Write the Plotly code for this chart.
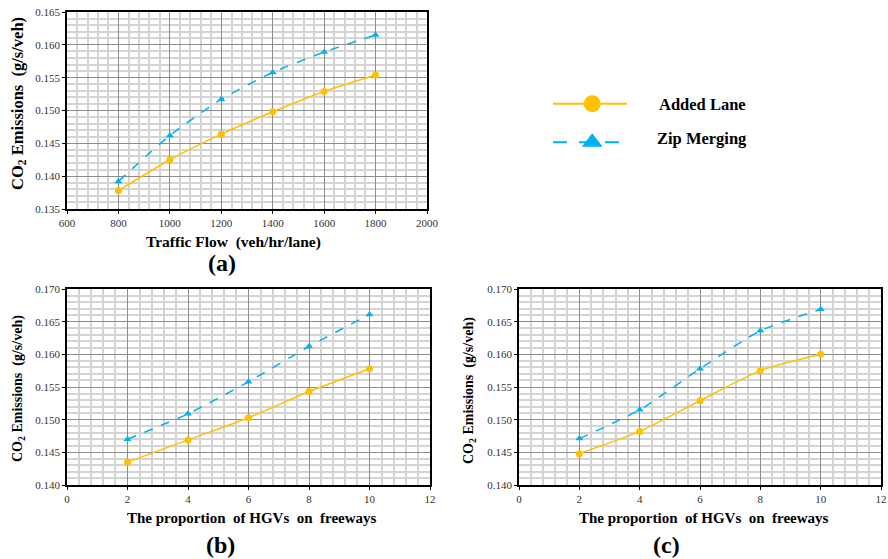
import plotly.graph_objects as go

# ---------------- data ----------------
flow = [800, 1000, 1200, 1400, 1600, 1800]
a_added = [0.1378, 0.1425, 0.1464, 0.1498, 0.1529, 0.1554]
a_zip = [0.1392, 0.1462, 0.1517, 0.1558, 0.1589, 0.1615]

hgv = [2, 4, 6, 8, 10]
b_added = [0.1435, 0.1469, 0.1503, 0.1543, 0.1578]
b_zip = [0.1470, 0.1509, 0.1558, 0.1612, 0.1661]
c_added = [0.1448, 0.1482, 0.1529, 0.1575, 0.1600]
c_zip = [0.1471, 0.1515, 0.1578, 0.1636, 0.1669]

series_names = ["Added Lane", "Zip Merging"]
ORANGE = "#FFC000"
BLUE = "#00B0F0"

W, H = 888, 559
SERIF = "Liberation Serif"

fig = go.Figure()


def add_pair(xs, ya, yz, ax):
    xa = "x" if ax == 1 else f"x{ax}"
    ya_ = "y" if ax == 1 else f"y{ax}"
    fig.add_trace(go.Scatter(x=xs, y=ya, xaxis=xa, yaxis=ya_, mode="lines+markers",
                             line=dict(color=ORANGE, width=1.5, shape="spline", smoothing=0.6),
                             marker=dict(symbol="circle", size=7, color=ORANGE),
                             name=series_names[0], showlegend=False))
    fig.add_trace(go.Scatter(x=xs, y=yz, xaxis=xa, yaxis=ya_, mode="lines+markers",
                             line=dict(color=BLUE, width=1.5, dash="dash", shape="spline", smoothing=0.6),
                             marker=dict(symbol="triangle-up", size=7, color=BLUE),
                             name=series_names[1], showlegend=False))


add_pair(flow, a_added, a_zip, 1)
add_pair(hgv, b_added, b_zip, 2)
add_pair(hgv, c_added, c_zip, 3)


def px_x(p):
    return p / W


def px_y(p):
    return 1 - p / H


def xaxis(dom, rng, dtick, mdtick, anchor):
    return dict(domain=dom, range=rng, dtick=dtick, tick0=rng[0], anchor=anchor, automargin=False,
                showgrid=True, gridcolor="#8c8c8c", gridwidth=1.2,
                minor=dict(dtick=mdtick, showgrid=True, gridcolor="#d4d4d4", gridwidth=1.5),
                showline=True, linecolor="black", linewidth=1.5, mirror=True,
                ticks="outside", ticklen=3, tickcolor="black",
                tickfont=dict(family=SERIF, size=11, color="#333333"),
                zeroline=False, fixedrange=True)


def yaxis(dom, rng, anchor):
    return dict(domain=dom, range=rng, dtick=0.005, tick0=rng[0], anchor=anchor, automargin=False,
                tickformat=".3f",
                showgrid=True, gridcolor="#8c8c8c", gridwidth=1.2,
                minor=dict(dtick=0.001, showgrid=True, gridcolor="#d4d4d4", gridwidth=1.5),
                showline=True, linecolor="black", linewidth=1.5, mirror=True,
                ticks="outside", ticklen=3, tickcolor="black",
                tickfont=dict(family=SERIF, size=11, color="#333333"),
                zeroline=False, fixedrange=True)


top_dom = [px_y(209), px_y(12)]
bot_dom = [px_y(485), px_y(289)]

fig.update_layout(
    template="none",
    width=W, height=H, margin=dict(l=0, r=0, t=0, b=0, autoexpand=False),
    paper_bgcolor="white", plot_bgcolor="white", showlegend=False,
    xaxis=xaxis([px_x(67), px_x(427)], [600, 2000], 200, 40, "y"),
    yaxis=yaxis(top_dom, [0.135, 0.165], "x"),
    xaxis2=xaxis([px_x(67), px_x(430)], [0, 12], 2, 0.4, "y2"),
    yaxis2=yaxis(bot_dom, [0.140, 0.170], "x2"),
    xaxis3=xaxis([px_x(519), px_x(881)], [0, 12], 2, 0.4, "y3"),
    yaxis3=yaxis(bot_dom, [0.140, 0.170], "x3"),
    xaxis4=dict(domain=[px_x(553), px_x(627)], range=[0, 1], visible=False, anchor="y4",
                fixedrange=True, automargin=False),
    yaxis4=dict(domain=[px_y(152), px_y(94)], range=[0, 1], visible=False, anchor="x4",
                fixedrange=True, automargin=False),
)

# legend glyphs (hidden helper axis)
leg_y = [0.83, 0.17]
fig.add_trace(go.Scatter(x=[0, 1], y=[leg_y[0]] * 2, xaxis="x4", yaxis="y4", mode="lines",
                         line=dict(color=ORANGE, width=2), showlegend=False, hoverinfo="skip"))
fig.add_trace(go.Scatter(x=[0.53], y=[leg_y[0]], xaxis="x4", yaxis="y4", mode="markers",
                         marker=dict(symbol="circle", size=17, color=ORANGE), showlegend=False, hoverinfo="skip"))
fig.add_trace(go.Scatter(x=[0, 1], y=[leg_y[1]] * 2, xaxis="x4", yaxis="y4", mode="lines",
                         line=dict(color=BLUE, width=2, dash="14px,12px"), showlegend=False, hoverinfo="skip"))
fig.add_trace(go.Scatter(x=[0.53], y=[leg_y[1]], xaxis="x4", yaxis="y4", mode="markers",
                         marker=dict(symbol="triangle-up", size=18, color=BLUE), showlegend=False, hoverinfo="skip"))

ann = []


def text(x, y, s, size, angle=0, xanchor="center"):
    ann.append(dict(x=px_x(x), y=px_y(y), xref="paper", yref="paper", text=s, showarrow=False,
                    textangle=angle, xanchor=xanchor, yanchor="middle",
                    font=dict(family=SERIF, size=size, color="black")))


ytitle = "<b>CO<sub>2</sub> Emissions  (g/s/veh)</b>"
text(18, 104, ytitle, 16.5, -90)
text(18, 389, ytitle, 14, -90)
text(469, 391, ytitle, 14, -90)
text(233, 242, "<b>Traffic Flow  (veh/hr/lane)</b>", 15.5)
text(252, 518, "<b>The proportion  of HGVs  on  freeways</b>", 15)
text(704, 518, "<b>The proportion  of HGVs  on  freeways</b>", 15)
text(222, 263, "<b>(a)</b>", 24)
text(220, 545, "<b>(b)</b>", 24)
text(666, 545, "<b>(c)</b>", 24)
text(657, 104, "<b>" + series_names[0] + "</b>", 16.5, xanchor="left")
text(655, 139, "<b>" + series_names[1] + "</b>", 16.5, xanchor="left")

fig.update_layout(annotations=ann)
fig.write_html("out.html", config={"displayModeBar": False},
               post_script="document.body.style.margin='0px';document.body.style.overflow='hidden';")
